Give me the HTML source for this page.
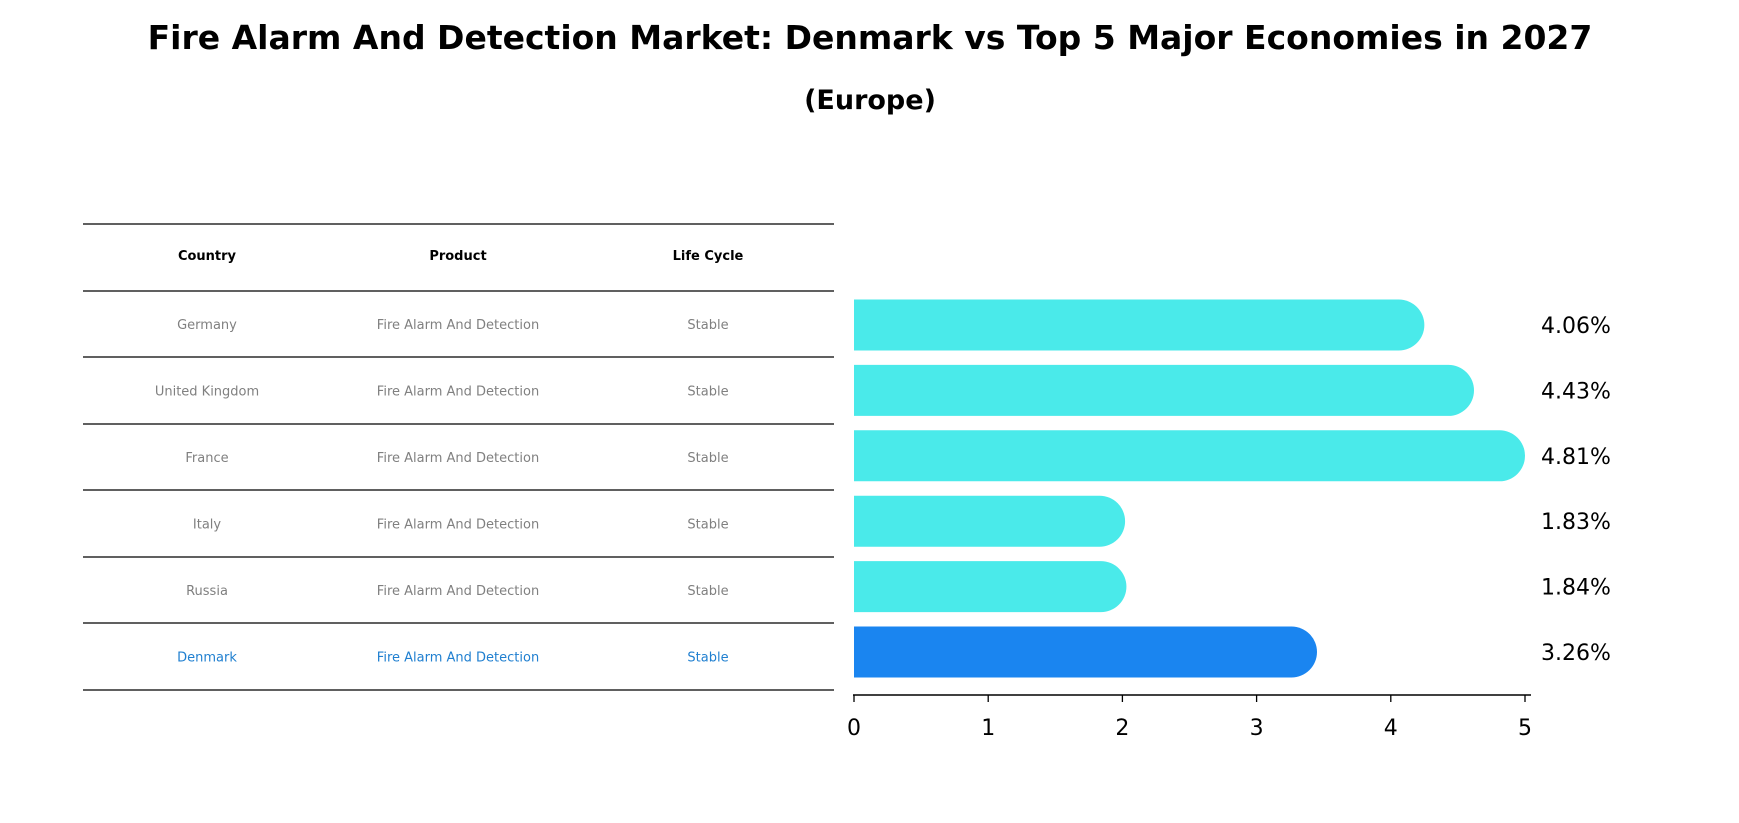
<!DOCTYPE html>
<html><head><meta charset="utf-8"><style>
body{margin:0;background:#fff;}
svg{display:block;font-family:"DejaVu Sans","Liberation Sans",sans-serif;}
</style></head><body>
<svg id="c" width="1739" height="823" viewBox="0 0 1739 823" xmlns="http://www.w3.org/2000/svg">
<text x="870" y="49" text-anchor="middle" font-size="33" font-weight="bold">Fire Alarm And Detection Market: Denmark vs Top 5 Major Economies in 2027</text>
<text x="870" y="109" text-anchor="middle" font-size="27" font-weight="bold">(Europe)</text>
<g id="table"></g>
<g id="bars"></g>
</svg>
<script>
const countries=["Germany","United Kingdom","France","Italy","Russia","Denmark"];
const products=["Fire Alarm And Detection","Fire Alarm And Detection","Fire Alarm And Detection","Fire Alarm And Detection","Fire Alarm And Detection","Fire Alarm And Detection"];
const lifecycle=["Stable","Stable","Stable","Stable","Stable","Stable"];
const values=[4.06,4.43,4.81,1.83,1.84,3.26];
const labels=["4.06%","4.43%","4.81%","1.83%","1.84%","3.26%"];
const ticks=[0,1,2,3,4,5];
const NS="http://www.w3.org/2000/svg";
function mk(t,a,p){const e=document.createElementNS(NS,t);for(const k in a)e.setAttribute(k,a[k]);p.appendChild(e);return e;}
const tbl=document.getElementById('table');
const lineY=[224,291,357,424,490,557,623,690];
lineY.forEach(y=>{const l=mk('line',{x1:83,x2:834,y1:y,y2:y,stroke:'#000','stroke-width':1.2},tbl);

});
const colX=[207,458,708];
["Country","Product","Life Cycle"].forEach((h,i)=>{const t=mk('text',{x:colX[i],y:260,'text-anchor':'middle','font-size':13,'font-weight':'bold'},tbl);t.textContent=h;

});
countries.forEach((c,r)=>{const y=(lineY[r+1]+lineY[r+2])/2+5;const col=r===5?'#1f7fd0':'#808080';
[c,products[r],lifecycle[r]].forEach((v,i)=>{const t=mk('text',{x:colX[i],y:y,'text-anchor':'middle','font-size':13,fill:col},tbl);t.textContent=v;

});});
const bars=document.getElementById('bars');
const x0=854,unit=134.2;const xs=v=>x0+v*unit;
const ys=i=>325+i*65.4;const bh=51,r=25.5;
values.forEach((v,i)=>{const cy=ys(i),x1=xs(v);const col=i===5?'#1a85f0':'#4aeaea';
const p=mk('path',{d:`M${x0},${cy-bh/2} H${x1} A${r},${r} 0 0 1 ${x1},${cy+bh/2} H${x0} Z`,fill:col},bars);


const t=mk('text',{x:1541,y:cy+8,'font-size':22},bars);t.textContent=labels[i];

});
const ax=mk('line',{x1:x0-1,x2:1531,y1:695,y2:695,stroke:'#000','stroke-width':1.5},bars);


ticks.forEach(v=>{const tk=mk('line',{x1:xs(v),x2:xs(v),y1:695,y2:702,stroke:'#000','stroke-width':1.3},bars);


const t=mk('text',{x:xs(v),y:735,'text-anchor':'middle','font-size':22},bars);t.textContent=v;

});
</script>
</body></html>
